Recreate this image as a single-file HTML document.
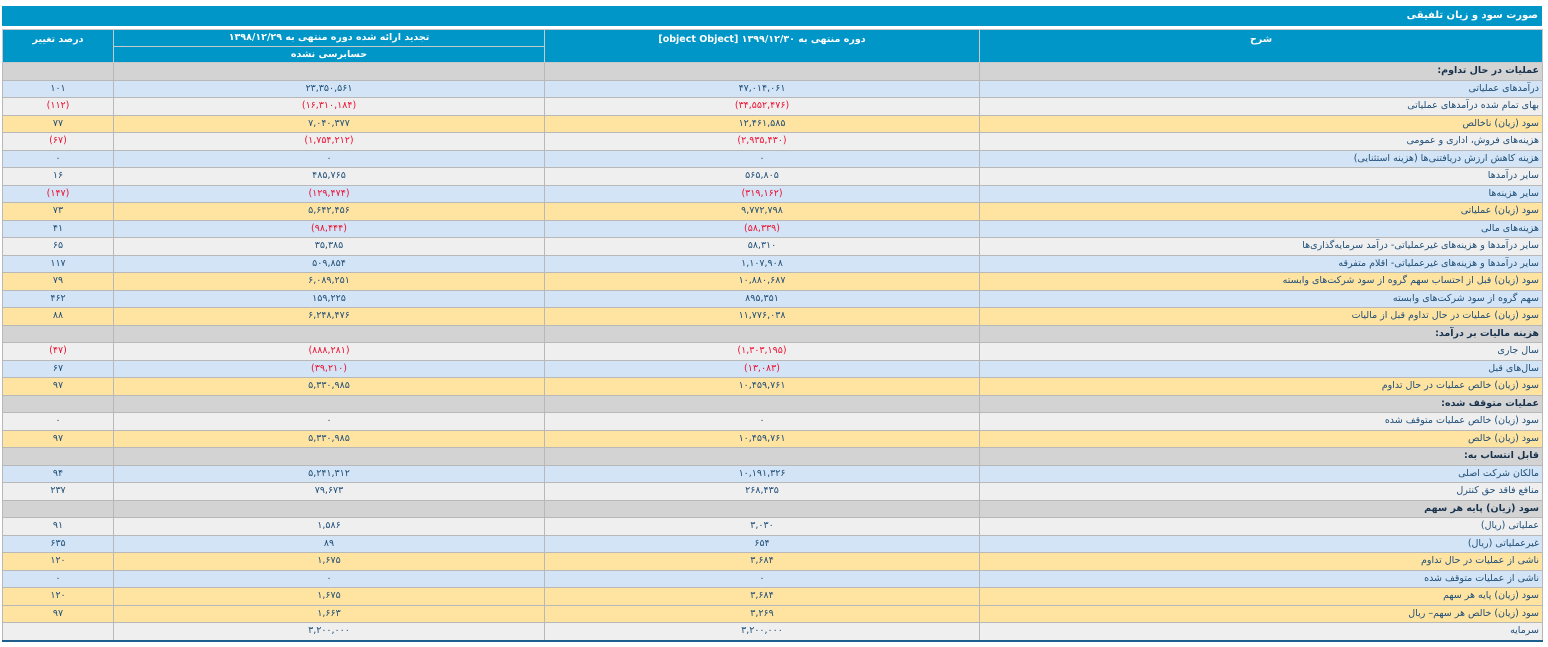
<!DOCTYPE html>
<html lang="fa"><head><meta charset="utf-8">
<style>
html,body{margin:0;padding:0;background:#fff;width:1548px;height:647px;overflow:hidden}
body{font-family:"DejaVu Sans","Liberation Sans",sans-serif;font-size:9.5px;color:#1f4e78}
#title{position:absolute;left:2px;top:6px;width:1540px;height:20px;background:#0096c8;color:#fff;font-weight:bold;direction:rtl;line-height:20px;box-sizing:border-box;padding-right:4px;font-size:10px}
table{position:absolute;left:2px;top:29px;width:1540px;border-collapse:collapse;table-layout:fixed;direction:rtl;border-bottom:2px solid #1f5f8e}
td,th{border:1px solid #b8b8b8;padding:0 3px;height:16.5px;line-height:16px;white-space:nowrap;overflow:hidden}
th{background:#0096c8;color:#fff;font-weight:bold;font-size:9.5px;border-color:#c8c8c8;height:15.5px;line-height:15px;padding:0 3px}
td.n{text-align:center}
td.d{text-align:right}
tr.s td{background:#d3d3d3;font-weight:bold;color:#17324d}
tr.b td{background:#d2e4f5}
tr.l td{background:#efefef}
tr.y td{background:#ffe3a1}
.r{color:#ee1133}
</style></head><body>
<div id="title">صورت سود و زیان تلفیقی</div>
<table>
<colgroup><col style="width:563px"><col style="width:435px"><col style="width:431px"><col style="width:111px"></colgroup>
<thead>
<tr><th rowspan="2" style="vertical-align:top;padding-top:2px">شرح</th>
<th rowspan="2" style="vertical-align:top;padding-top:2px">دوره منتهی به ۱۳۹۹/۱۲/۳۰ [object Object]</th>
<th>تجدید ارائه شده دوره منتهی به ۱۳۹۸/۱۲/۲۹</th>
<th rowspan="2" style="vertical-align:top;padding-top:2px">درصد تغییر</th></tr>
<tr><th>حسابرسی نشده</th></tr>
</thead>
<tbody id="tb"></tbody>
</table>
<script>
const labels=["عملیات در حال تداوم:","درآمدهای عملیاتی","بهای تمام شده درآمدهای عملیاتی","سود (زیان) ناخالص","هزینه‌های فروش، اداری و عمومی","هزینه کاهش ارزش دریافتنی‌ها (هزینه استثنایی)","سایر درآمدها","سایر هزینه‌ها","سود (زیان) عملیاتی","هزینه‌های مالی","سایر درآمدها و هزینه‌های غیرعملیاتی- درآمد سرمایه‌گذاری‌ها","سایر درآمدها و هزینه‌های غیرعملیاتی- اقلام متفرقه","سود (زیان) قبل از احتساب سهم گروه از سود شرکت‌های وابسته","سهم گروه از سود شرکت‌های وابسته","سود (زیان) عملیات در حال تداوم قبل از مالیات","هزینه مالیات بر درآمد:","سال جاری","سال‌های قبل","سود (زیان) خالص عملیات در حال تداوم","عملیات متوقف شده:","سود (زیان) خالص عملیات متوقف شده","سود (زیان) خالص","قابل انتساب به:","مالکان شرکت اصلی","منافع فاقد حق کنترل","سود (زیان) پایه هر سهم","عملیاتی (ریال)","غیرعملیاتی (ریال)","ناشی از عملیات در حال تداوم","ناشی از عملیات متوقف شده","سود (زیان) پایه هر سهم","سود (زیان) خالص هر سهم– ریال","سرمایه"];
const styles=["s","b","l","y","l","b","l","b","y","b","l","b","y","b","y","s","l","b","y","s","l","y","s","b","l","s","l","b","y","b","y","y","l"];
const current=["","۴۷,۰۱۴,۰۶۱","(۳۴,۵۵۲,۴۷۶)","۱۲,۴۶۱,۵۸۵","(۲,۹۳۵,۴۳۰)","۰","۵۶۵,۸۰۵","(۳۱۹,۱۶۲)","۹,۷۷۲,۷۹۸","(۵۸,۳۳۹)","۵۸,۳۱۰","۱,۱۰۷,۹۰۸","۱۰,۸۸۰,۶۸۷","۸۹۵,۳۵۱","۱۱,۷۷۶,۰۳۸","","(۱,۳۰۳,۱۹۵)","(۱۳,۰۸۳)","۱۰,۴۵۹,۷۶۱","","۰","۱۰,۴۵۹,۷۶۱","","۱۰,۱۹۱,۳۲۶","۲۶۸,۴۳۵","","۳,۰۳۰","۶۵۴","۳,۶۸۴","۰","۳,۶۸۴","۳,۲۶۹","۳,۲۰۰,۰۰۰"];
const prior=["","۲۳,۳۵۰,۵۶۱","(۱۶,۳۱۰,۱۸۴)","۷,۰۴۰,۳۷۷","(۱,۷۵۴,۲۱۲)","۰","۴۸۵,۷۶۵","(۱۲۹,۴۷۴)","۵,۶۴۲,۴۵۶","(۹۸,۴۴۴)","۳۵,۳۸۵","۵۰۹,۸۵۴","۶,۰۸۹,۲۵۱","۱۵۹,۲۲۵","۶,۲۴۸,۴۷۶","","(۸۸۸,۲۸۱)","(۳۹,۲۱۰)","۵,۳۳۰,۹۸۵","","۰","۵,۳۳۰,۹۸۵","","۵,۲۴۱,۳۱۲","۷۹,۶۷۳","","۱,۵۸۶","۸۹","۱,۶۷۵","۰","۱,۶۷۵","۱,۶۶۳","۳,۲۰۰,۰۰۰"];
const change=["","۱۰۱","(۱۱۲)","۷۷","(۶۷)","۰","۱۶","(۱۴۷)","۷۳","۴۱","۶۵","۱۱۷","۷۹","۴۶۲","۸۸","","(۴۷)","۶۷","۹۷","","۰","۹۷","","۹۴","۲۳۷","","۹۱","۶۳۵","۱۲۰","۰","۱۲۰","۹۷",""];
const tb=document.getElementById('tb');
function cell(tr,txt,cls,name){
  const td=document.createElement('td');
  td.className=cls+(txt.startsWith('(')?' r':'');
  td.textContent=txt;
  
  
  tr.appendChild(td);
}
for(let i=0;i<labels.length;i++){
  const tr=document.createElement('tr');
  tr.className=styles[i];
  
  
  cell(tr,labels[i],'d','row-label');
  cell(tr,current[i],'n','current-value');
  cell(tr,prior[i],'n','prior-value');
  cell(tr,change[i],'n','change-percent');
  tb.appendChild(tr);
}
</script>
</body></html>
